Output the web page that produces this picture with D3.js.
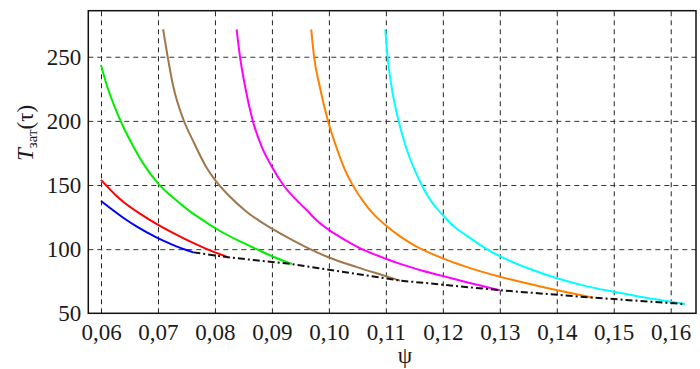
<!DOCTYPE html>
<html>
<head>
<meta charset="utf-8">
<script src="https://cdn.jsdelivr.net/npm/d3@7"></script>
<style>
  body { margin: 0; background: #fff; }
</style>
</head>
<body>
<svg id="chart" width="700" height="369"></svg>
<script>
// values
var xTicks = [0.06, 0.07, 0.08, 0.09, 0.10, 0.11, 0.12, 0.13, 0.14, 0.15, 0.16];
var yTicks = [50, 100, 150, 200, 250];

var bluePsi = [0.0600, 0.0639, 0.0663, 0.0698, 0.0727, 0.0762];
var blueT   = [137.5, 124.5, 117.5, 109, 103.2, 97.5];

var redPsi = [0.0600, 0.0625, 0.0639, 0.0669, 0.0698, 0.0727, 0.0756, 0.0786, 0.0824];
var redT   = [154, 142.5, 137, 127.5, 119.5, 112.5, 106, 100, 93.6];

var greenPsi = [0.0600, 0.0610, 0.0624, 0.0639, 0.0657, 0.0674, 0.0700, 0.0727, 0.0756, 0.0774, 0.0800, 0.0844, 0.0873, 0.0900, 0.0935];
var greenT   = [243.5, 228, 211, 195.4, 179.9, 166.9, 151.3, 140, 129.5, 124, 116.5, 106, 100, 94.5, 88.4];

var brownPsi = [0.0709, 0.0717, 0.0727, 0.0745, 0.0762, 0.0786, 0.0800, 0.0826, 0.0856, 0.0900, 0.0932, 0.0967, 0.1000, 0.1049, 0.1096, 0.1125];
var brownT   = [271.4, 250, 226.6, 200.7, 184, 163, 154, 141, 129, 116, 108, 100, 93.5, 86, 79.5, 75.5];

var magentaPsi = [0.0838, 0.0844, 0.0853, 0.0866, 0.0882, 0.0900, 0.0920, 0.0949, 0.0961, 0.0976, 0.1000, 0.1025, 0.1049, 0.1100, 0.1125, 0.1166, 0.1199, 0.1242, 0.1300];
var magentaT   = [271.4, 250, 226.6, 200.7, 179.9, 164.3, 150, 135.7, 130.5, 123.5, 115, 108, 102, 92.5, 88.5, 83, 79.2, 74.2, 68];

var orangePsi = [0.0969, 0.0974, 0.0984, 0.0998, 0.1017, 0.1028, 0.1040, 0.1060, 0.1078, 0.1100, 0.1125, 0.1150, 0.1175, 0.1199, 0.1236, 0.1300, 0.1347, 0.1399, 0.1464];
var orangeT   = [271.4, 250, 226.6, 200.7, 174.7, 162, 151.3, 137.5, 127.5, 118.5, 110, 103, 97.5, 93, 87, 78.5, 73.4, 68.2, 62.2];

var cyanPsi = [0.1099, 0.1103, 0.1110, 0.1122, 0.1137, 0.1163, 0.1178, 0.1199, 0.1220, 0.1242, 0.1283, 0.1300, 0.1353, 0.1399, 0.1453, 0.1500, 0.1552, 0.1600, 0.1625];
var cyanT   = [271.4, 250, 226.6, 200.7, 177.3, 150, 138.3, 127, 117.5, 110.5, 98.5, 94.5, 84.5, 77.5, 71, 66.8, 62.5, 59, 57.2];

var envPsi = [0.0762, 0.0824, 0.0935, 0.1125, 0.1300, 0.1464, 0.1625];
var envT   = [97.5, 93.6, 88.4, 75.5, 68, 62.2, 57.2];

var series = [
  { psi: bluePsi, t: blueT, color: "#0000ff" },
  { psi: redPsi, t: redT, color: "#ff0000" },
  { psi: greenPsi, t: greenT, color: "#00ee00" },
  { psi: brownPsi, t: brownT, color: "#a0774c" },
  { psi: magentaPsi, t: magentaT, color: "#ff00ff" },
  { psi: orangePsi, t: orangeT, color: "#ff8000" },
  { psi: cyanPsi, t: cyanT, color: "#00ffff" }
];

function zip(xs, ys) {
  return xs.map(function (d, i) { return { x: d, y: ys[i] }; });
}

var serif = "'Liberation Serif', 'Times New Roman', serif";

var svg = d3.select("#chart"),
    margin = { top: 10.7, right: 4, bottom: 55.7, left: 88.3 },
    width = +svg.attr("width") - margin.left - margin.right,
    height = +svg.attr("height") - margin.top - margin.bottom,
    g = svg.append("g").attr("transform", "translate(" + margin.left + "," + margin.top + ")");

var x = d3.scaleLinear().domain([0.05777, 0.16444]).range([0, width]);
var y = d3.scaleLinear().domain([50, 285.9]).range([height, 0]);

var fmt = function (d) { return d3.format(".2f")(d).replace(".", ","); };

// x axis with vertical grid
var xa = g.append("g")
    .attr("transform", "translate(0," + height + ")")
    .call(d3.axisBottom(x).tickValues(xTicks).tickFormat(fmt).tickSize(-height).tickPadding(10));
xa.select(".domain").remove();
xa.selectAll("line").attr("stroke", "#222").attr("stroke-dasharray", "5,4");
xa.selectAll("text").attr("font-size", "23px").attr("fill", "#1a1a1a")
    .style("font-family", serif);

// y axis with horizontal grid
var ya = g.append("g")
    .call(d3.axisLeft(y).tickValues(yTicks).tickSize(-width).tickPadding(7));
ya.select(".domain").remove();
ya.selectAll("line").attr("stroke", "#333").attr("stroke-dasharray", "5,4")
    .filter(function (d) { return d === 50; }).remove();
ya.selectAll("text").attr("font-size", "23px").attr("fill", "#1a1a1a")
    .style("font-family", serif);

var line = d3.line()
    .x(function (d) { return x(d.x); })
    .y(function (d) { return y(d.y); })
    .curve(d3.curveMonotoneX);

series.forEach(function (s) {
  g.append("path")
      .datum(zip(s.psi, s.t))
      .attr("fill", "none")
      .attr("stroke", s.color)
      .attr("stroke-width", 2)
      .attr("stroke-linejoin", "round")
      .attr("d", line);
});

g.append("path")
    .datum(zip(envPsi, envT))
    .attr("fill", "none")
    .attr("stroke", "#111")
    .attr("stroke-width", 2)
    .attr("stroke-dasharray", "7,3,2,3")
    .attr("d", d3.line().x(function (d) { return x(d.x); }).y(function (d) { return y(d.y); }));

// frame
g.append("rect")
    .attr("width", width)
    .attr("height", height)
    .attr("fill", "none")
    .attr("stroke", "#111")
    .attr("stroke-width", 1.5);

// axis titles
svg.append("text")
    .attr("x", 405)
    .attr("y", 363)
    .attr("text-anchor", "middle")
    .attr("font-size", "23px")
    .attr("fill", "#1a1a1a")
    .style("font-family", serif)
    .text("ψ");

var yl = svg.append("text")
    .attr("transform", "translate(33,133) rotate(-90)")
    .attr("text-anchor", "middle")
    .attr("font-size", "23px")
    .attr("fill", "#1a1a1a")
    .style("font-family", serif);
yl.append("tspan").attr("font-style", "italic").text("T");
yl.append("tspan").attr("font-size", "15px").attr("dy", 4).text("зат");
yl.append("tspan").attr("dy", -4).text("(τ)");
</script>
</body>
</html>
